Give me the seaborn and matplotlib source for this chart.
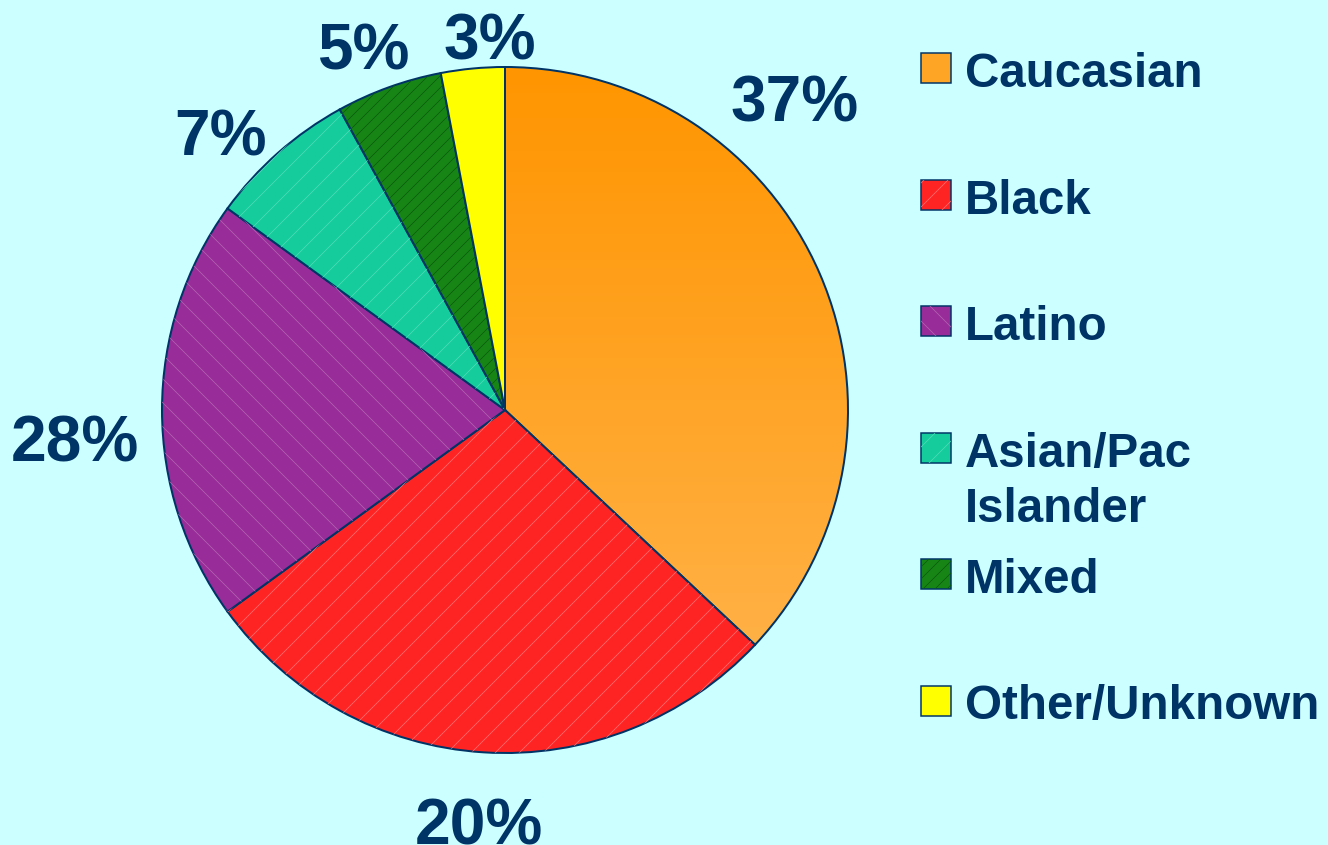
"""
Pie chart: share of cases by race / ethnicity (recreated from a slide).
"""

import numpy as np
import matplotlib.pyplot as plt
import seaborn as sns
from matplotlib.colors import LinearSegmentedColormap
from matplotlib.patches import Rectangle, Wedge

# ---- data ----
groups = ["Caucasian", "Black", "Latino", "Asian/Pac\nIslander", "Mixed", "Other/Unknown"]
shares = [37, 28, 20, 7, 5, 3]
# percentage texts as printed next to each slice on the slide
pct_labels = ["37%", "20%", "28%", "7%", "5%", "3%"]

# ---- style ----
BG = "#CCFFFF"
NAVY = "#003366"
slice_colors = ["#FFA526", "#FF2424", "#982C98", "#14CC9C", "#168516", "#FFFF00"]
hatches = [None, "/", "\\", "/", "//", None]
hatch_colors = [None, "#FF7474", "#B565B5", "#55DDB8", "#0B5A0B", None]
orange_grad = LinearSegmentedColormap.from_list("orange", ["#FF9500", "#FFB652"])

# label placement tweaks (clockwise degrees from slice middle, radius multiple)
label_shift = [-23.7, 0.0, -3.7, -4.2, -1.5, 3.1]
label_dist = [1.24, 1.20, 1.256, 1.16, 1.14, 1.09]

W, H, DPI = 1328, 845, 72
CX, CY, R = 505, 410, 343   # pie centre / radius in pixels (from top-left)
LIM = 1.4

sns.set_theme(style="white")
plt.rcParams["font.family"] = ["Liberation Sans", "DejaVu Sans"]
plt.rcParams["hatch.linewidth"] = 0.7

fig = plt.figure(figsize=(W / DPI, H / DPI), dpi=DPI, facecolor=BG)
ax = fig.add_axes([
    (CX - LIM * R) / W,
    (H - CY - LIM * R) / H,
    2 * LIM * R / W,
    2 * LIM * R / H,
])
ax.set_facecolor("none")

wedges, _ = ax.pie(
    shares,
    colors=slice_colors,
    startangle=90,
    counterclock=False,
    wedgeprops=dict(edgecolor=NAVY, linewidth=2.0),
)

# gradient fill for the first slice
grad = np.linspace(0, 1, 256).reshape(-1, 1)
img = ax.imshow(grad, cmap=orange_grad, extent=(-1, 1, -1, 1), origin="upper",
                aspect="auto", zorder=0.5)
img.set_clip_path(wedges[0])
wedges[0].set_facecolor("none")

# hatch overlays in their own colour
for w, h, hc in zip(wedges, hatches, hatch_colors):
    if h is None:
        continue
    ax.add_patch(Wedge(w.center, w.r, w.theta1, w.theta2, facecolor="none",
                       edgecolor=hc, linewidth=0, hatch=h, zorder=1.2))

# percentage labels
for w, txt, shift, dist in zip(wedges, pct_labels, label_shift, label_dist):
    mid = 0.5 * (w.theta1 + w.theta2) - shift
    ang = np.deg2rad(mid)
    ax.text(dist * np.cos(ang), dist * np.sin(ang), txt, ha="center",
            va="center_baseline", fontsize=64, fontweight="bold", color=NAVY,
            clip_on=False)

ax.set_xlim(-LIM, LIM)
ax.set_ylim(-LIM, LIM)
ax.set_aspect("equal")
ax.axis("off")

# legend drawn by hand so the two-line entry keeps the even spacing
STEP = 126.5
for i, (name, col) in enumerate(zip(groups, slice_colors)):
    top = 53 + STEP * i
    sq = Rectangle((921 / W, 1 - (top + 30) / H), 30 / W, 30 / H,
                   transform=fig.transFigure, facecolor=col, edgecolor=NAVY,
                   linewidth=1.5)
    fig.add_artist(sq)
    if hatches[i]:
        fig.add_artist(Rectangle((921 / W, 1 - (top + 30) / H), 30 / W, 30 / H,
                                 transform=fig.transFigure, facecolor="none",
                                 edgecolor=hatch_colors[i], linewidth=0,
                                 hatch=hatches[i]))
    for k, line in enumerate(name.split("\n")):
        base = top + 34 + 55 * k
        fig.text(965 / W, 1 - base / H, line, ha="left", va="baseline",
                 fontsize=47.5, fontweight="bold", color=NAVY)

fig.savefig("out.png", dpi=DPI, facecolor=BG)
